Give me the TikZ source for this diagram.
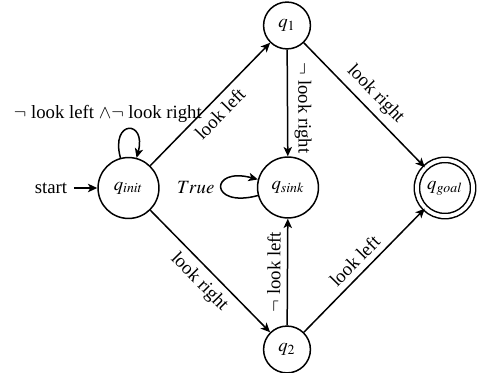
\documentclass[tikz,border=0pt]{standalone}
\usepackage{mathptmx}
\usepackage[no-math]{fontspec}
\setmainfont{Liberation Serif}
\usetikzlibrary{arrows.meta}
\begin{document}
\begin{tikzpicture}[x=0.5336pt,y=0.5336pt,
  >={Stealth[length=5pt,width=4.5pt,inset=1.3pt]},
  st/.style={circle,draw,thick,inner sep=0pt,minimum size=32.5pt},
  sm/.style={st,minimum size=25pt},
  acc/.style={st,double,double distance=2pt,minimum size=30pt},
  tr/.style={->,thick},
  lb/.style={sloped,inner sep=3.3pt}]
\useasboundingbox (0,0) rectangle (478,373);
\node[st]  (qinit) at (128.5,185) {$q_{init}$};
\node[sm]  (q1)    at (287,347.5) {$q_1$};
\node[st]  (qsink) at (288,185.5) {$q_{sink}$};
\node[sm]  (q2)    at (287,23.5) {$q_2$};
\node[acc] (qgoal) at (445,185) {$q_{goal}$};
\node (start) at (51,185) {start};
\draw[tr] (start) -- (qinit);
\draw[tr] (qinit) to[out=105,in=75,looseness=6.3,min distance=5mm] node[above,xshift=-11pt] (l0) {$\neg$ look left $\wedge\neg$ look right} (qinit);
\draw[tr] (qinit) -- node[lb,below] (l1) {look left} (q1);
\draw[tr] (qinit) -- node[lb,below] (l2) {look right} (q2);
\draw[tr] (q1) -- node[lb,above,pos=0.55] (l3) {$\neg$ look right} (qsink);
\draw[tr] (q1) -- node[lb,above] (l4) {look right} (qgoal);
\draw[tr] (q2) -- node[lb,above] (l5) {$\neg$ look left} (qsink);
\draw[tr] (q2) -- node[lb,above] (l6) {look left} (qgoal);
\draw[tr] (qsink) to[out=195,in=165,looseness=8,min distance=5mm] node[left] (l7) {$True$} (qsink);
\end{tikzpicture}
\end{document}
